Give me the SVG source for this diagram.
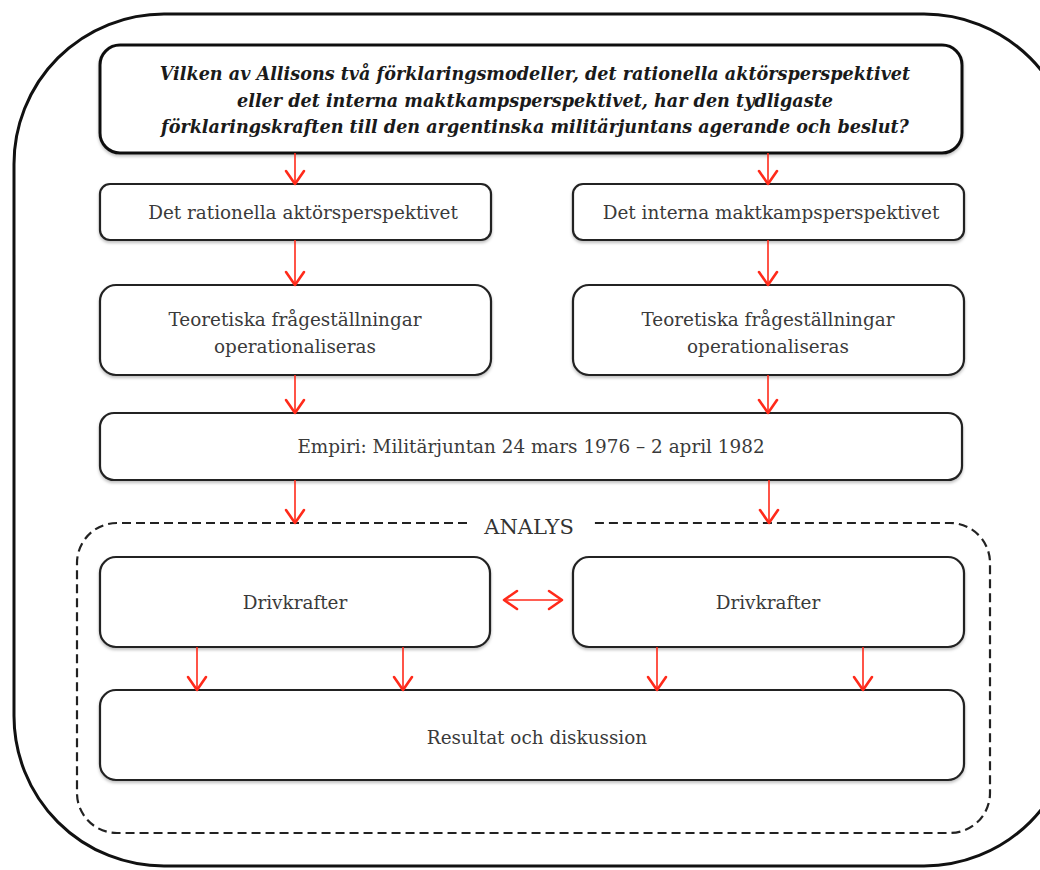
<svg xmlns="http://www.w3.org/2000/svg" width="1040" height="870" viewBox="0 0 1040 870">
<defs>
<style>
.box{fill:#fff;stroke:#222;stroke-width:2.2;filter:url(#sh)}
.q{fill:#fff;stroke:#111;stroke-width:3;filter:url(#sh)}
.t{font-family:"DejaVu Serif","Liberation Serif",serif;font-size:18.4px;fill:#3a3a3a;text-anchor:middle}
.qt{font-family:"DejaVu Serif","Liberation Serif",serif;font-size:17.6px;font-weight:bold;font-style:italic;fill:#1a1a1a;text-anchor:middle}
.ar{stroke:#ff2a1a;stroke-width:1.6;fill:none;marker-end:url(#ah)}
</style>
<filter id="sh" x="-5%" y="-10%" width="110%" height="130%">
<feDropShadow dx="0" dy="2" stdDeviation="1.5" flood-color="#000" flood-opacity="0.25"/>
</filter>
<marker id="ah" viewBox="0 0 20 22" refX="18" refY="11" markerWidth="20" markerHeight="22" markerUnits="userSpaceOnUse" orient="auto-start-reverse">
<path d="M5,2 L18,11 L5,20" fill="none" stroke="#ff2a1a" stroke-width="2.6" stroke-linecap="round" stroke-linejoin="round"/>
</marker>
</defs>
<rect width="1040" height="870" fill="#fff"/>
<g id="frame">
<rect x="14" y="14" width="1060" height="852" rx="150" fill="none" stroke="#111" stroke-width="3"/>
</g>
<g id="analys">
<path d="M467,523 H117 A40,40 0 0 0 77,563 V793 A40,40 0 0 0 117,833 H950 A40,40 0 0 0 990,793 V563 A40,40 0 0 0 950,523 H593" fill="none" stroke="#222" stroke-width="2.2" stroke-dasharray="9,5"/>
<text x="529" y="534" font-family="DejaVu Serif,Liberation Serif,serif" font-size="21" fill="#333" text-anchor="middle">ANALYS</text>
</g>
<g id="question">
<rect class="q" x="100" y="45" width="862" height="108" rx="20"/>
<text class="qt" x="535" y="80">Vilken av Allisons två förklaringsmodeller, det rationella aktörsperspektivet</text>
<text class="qt" x="535" y="107">eller det interna maktkampsperspektivet, har den tydligaste</text>
<text class="qt" x="535" y="133">förklaringskraften till den argentinska militärjuntans agerande och beslut?</text>
</g>
<g id="rational">
<rect class="box" x="100" y="184" width="391" height="56" rx="10"/>
<text class="t" x="303" y="219">Det rationella aktörsperspektivet</text>
</g>
<g id="internal">
<rect class="box" x="573" y="184" width="391" height="56" rx="10"/>
<text class="t" x="771" y="219">Det interna maktkampsperspektivet</text>
</g>
<g id="theory-left">
<rect class="box" x="100" y="285" width="391" height="90" rx="16"/>
<text class="t" x="295" y="326">Teoretiska frågeställningar</text>
<text class="t" x="295" y="353">operationaliseras</text>
</g>
<g id="theory-right">
<rect class="box" x="573" y="285" width="391" height="90" rx="16"/>
<text class="t" x="768" y="326">Teoretiska frågeställningar</text>
<text class="t" x="768" y="353">operationaliseras</text>
</g>
<g id="empiri">
<rect class="box" x="100" y="413" width="862" height="67" rx="14"/>
<text class="t" x="531" y="453">Empiri: Militärjuntan 24 mars 1976 – 2 april 1982</text>
</g>
<g id="driv-left">
<rect class="box" x="100" y="557" width="390" height="90" rx="16"/>
<text class="t" x="295" y="609">Drivkrafter</text>
</g>
<g id="driv-right">
<rect class="box" x="573" y="557" width="391" height="90" rx="16"/>
<text class="t" x="768" y="609">Drivkrafter</text>
</g>
<g id="result">
<rect class="box" x="100" y="690" width="864" height="90" rx="16"/>
<text class="t" x="537" y="744">Resultat och diskussion</text>
</g>
<g id="connectors">
<line class="ar" x1="295" y1="153" x2="295" y2="184"/>
<line class="ar" x1="768" y1="153" x2="768" y2="184"/>
<line class="ar" x1="295" y1="240" x2="295" y2="285"/>
<line class="ar" x1="768" y1="240" x2="768" y2="285"/>
<line class="ar" x1="295" y1="375" x2="295" y2="413"/>
<line class="ar" x1="768" y1="375" x2="768" y2="413"/>
<line class="ar" x1="295" y1="480" x2="295" y2="523"/>
<line class="ar" x1="769" y1="480" x2="769" y2="523"/>
<line class="ar" x1="504" y1="600" x2="562" y2="600" marker-start="url(#ah)"/>
<line class="ar" x1="197" y1="647" x2="197" y2="690"/>
<line class="ar" x1="403" y1="647" x2="403" y2="690"/>
<line class="ar" x1="657" y1="647" x2="657" y2="690"/>
<line class="ar" x1="863" y1="647" x2="863" y2="690"/>
</g>
</svg>
